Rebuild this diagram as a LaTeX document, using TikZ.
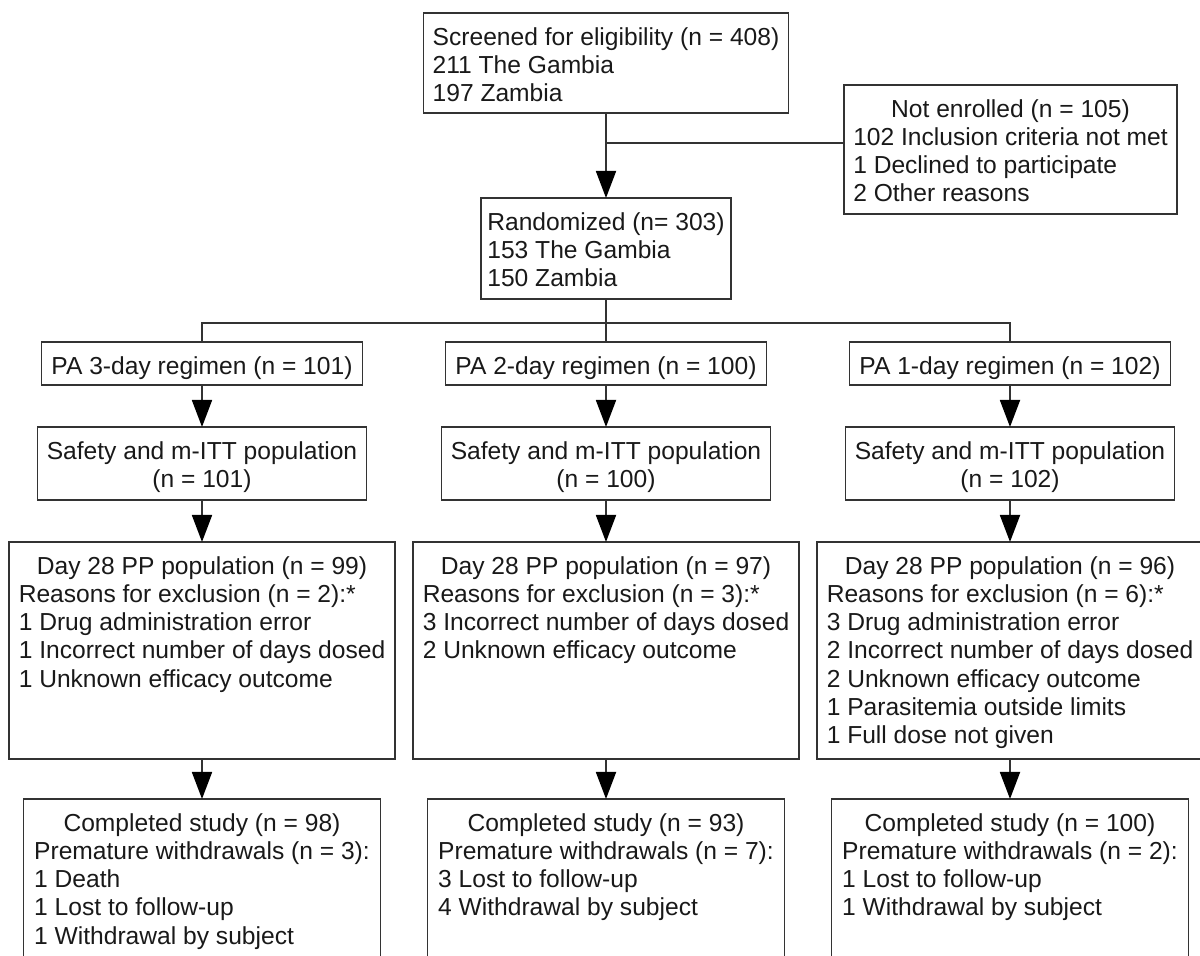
\documentclass[tikz,border=0pt]{standalone}
\usepackage{fontspec}
\setmainfont{Liberation Sans}
\usetikzlibrary{arrows.meta}

% box content: width, height (pt), column type, lines
\newcommand{\cell}[4]{\parbox[c][#2pt][t]{#1pt}{\centering\vspace*{6.1pt}\begin{tabular}[t]{@{}#3@{}}#4\end{tabular}}}
\newcommand{\toprow}[1]{\multicolumn{1}{@{}c@{}}{#1}}

\tikzset{
  box/.style={draw=black!80, line width=0.9pt, inner sep=0pt, outer sep=0pt,
    anchor=north, text=black!90, font=\fontsize{12.3}{14.15}\selectfont},
  link/.style={draw=black!80, line width=0.9pt},
  arr/.style={link, -{Triangle[width=10pt,length=13.5pt,black]}}
}

\begin{document}
\begin{tikzpicture}[x=0.5pt, y=-0.5pt]
    \useasboundingbox (0,0) rectangle (1200,956);
    \clip (0,0) rectangle (1200,956);

    % Screening and randomization
    \node[box] (screen) at (606,13) {\cell{182.5}{50}{l}{Screened for eligibility (n = 408)\\ 211 The Gambia\\ 197 Zambia}};
    \node[box] (notenr) at (1010.5,85) {\cell{166.5}{64.5}{l}{\toprow{Not enrolled (n = 105)}\\ 102 Inclusion criteria not met\\ 1 Declined to participate\\ 2 Other reasons}};
    \node[box] (rand) at (606,198) {\cell{125}{50.5}{l}{Randomized (n= 303)\\ 153 The Gambia\\ 150 Zambia}};

    % Regimen arms
    \node[box] (pa3) at (202,342) {\cell{160.5}{21.5}{c}{PA 3-day regimen (n = 101)}};
    \node[box] (pa2) at (606,342) {\cell{160.5}{21.5}{c}{PA 2-day regimen (n = 100)}};
    \node[box] (pa1) at (1010,342) {\cell{160.5}{21.5}{c}{PA 1-day regimen (n = 102)}};

    % Safety and m-ITT population
    \node[box] (saf3) at (202,427) {\cell{164.5}{36.5}{c}{Safety and m-ITT population\\ (n = 101)}};
    \node[box] (saf2) at (606,427) {\cell{164.5}{36.5}{c}{Safety and m-ITT population\\ (n = 100)}};
    \node[box] (saf1) at (1010,427) {\cell{164.5}{36.5}{c}{Safety and m-ITT population\\ (n = 102)}};

    % Day 28 PP population
    \node[box] (day3) at (202,542) {\cell{193}{108.5}{l}{\toprow{Day 28 PP population (n = 99)}\\ Reasons for exclusion (n = 2):*\\ 1 Drug administration error\\ 1 Incorrect number of days dosed\\ 1 Unknown efficacy outcome}};
    \node[box] (day2) at (606,542) {\cell{193}{108.5}{l}{\toprow{Day 28 PP population (n = 97)}\\ Reasons for exclusion (n = 3):*\\ 3 Incorrect number of days dosed\\ 2 Unknown efficacy outcome}};
    \node[box] (day1) at (1010,542) {\cell{193}{108.5}{l}{\toprow{Day 28 PP population (n = 96)}\\ Reasons for exclusion (n = 6):*\\ 3 Drug administration error\\ 2 Incorrect number of days dosed\\ 2 Unknown efficacy outcome\\ 1 Parasitemia outside limits\\ 1 Full dose not given}};

    % Completed study
    \node[box] (comp3) at (202,799) {\cell{178.5}{100}{l}{\toprow{Completed study (n = 98)}\\ Premature withdrawals (n = 3):\\ 1 Death\\ 1 Lost to follow-up\\ 1 Withdrawal by subject}};
    \node[box] (comp2) at (606,799) {\cell{178.5}{100}{l}{\toprow{Completed study (n = 93)}\\ Premature withdrawals (n = 7):\\ 3 Lost to follow-up\\ 4 Withdrawal by subject}};
    \node[box] (comp1) at (1010,799) {\cell{178.5}{100}{l}{\toprow{Completed study (n = 100)}\\ Premature withdrawals (n = 2):\\ 1 Lost to follow-up\\ 1 Withdrawal by subject}};

    % Connectors
    \coordinate (split) at (606,143);
    \coordinate (fork) at (606,323);
    \draw[arr] (screen.south) -- (rand.north);
    \draw[link] (split) -- (split -| notenr.west);
    \draw[link] (rand.south) -- (pa2.north);
    \draw[link] (pa3.north) |- (fork) -| (pa1.north);
    \foreach \d in {1,2,3} {
        \draw[arr] (pa\d.south) -- (saf\d.north);
        \draw[arr] (saf\d.south) -- (day\d.north);
        \draw[arr] (day\d.south) -- (comp\d.north);
    }

\end{tikzpicture}
\end{document}
